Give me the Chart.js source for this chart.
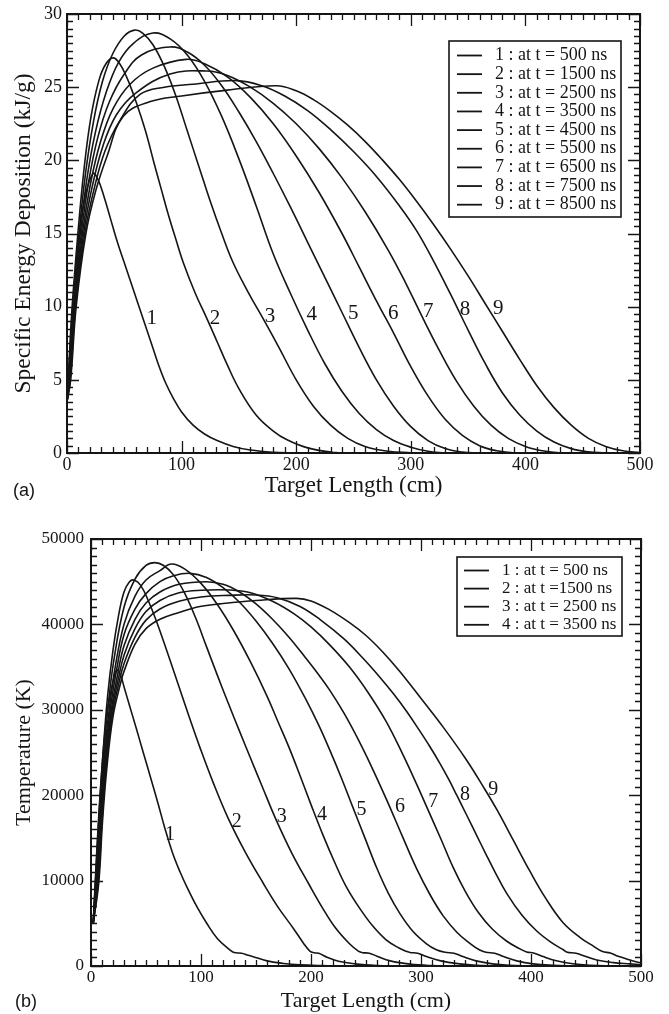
<!DOCTYPE html>
<html lang="en">
<head>
<meta charset="UTF-8">
<title>Specific energy deposition and temperature along the target</title>
<script src="https://cdn.jsdelivr.net/npm/chart.js"></script>
<style>
  body { margin: 0; background: #fff; }
  canvas { position: absolute; left: 0; }
</style>
</head>
<body>
<canvas id="chartA" width="669" height="500" style="top:0"></canvas>
<canvas id="chartB" width="669" height="514" style="top:500px"></canvas>

<script>
// ---- panel (a): specific energy deposition (kJ/g), [x cm, value] ----
const energy1 = [[0,3.5],[1.5,5],[5.5,10],[11,15],[16,17.6],[22.7,19.1],[27,18.7],[32,17.6],[38,16.0],[44,14.4],[50,13.0],[56,11.6],[62,10.2],[68,8.8],[74,7.4],[80,6.0],[86,4.8],[93,3.7],[100,2.8],[110,1.9],[120,1.3],[131,0.85],[145,0.45],[160,0.2],[180,0.05],[200,0]];
const energy2 = [[0,3.5],[1,5],[4.5,10],[9.5,15],[15,19.5],[21,23],[28,25.5],[34,26.6],[40.4,27.0],[46,26.6],[52,25.7],[58,24.5],[63.7,23.2],[70,21.6],[76,19.8],[82,18.1],[88,16.4],[95,14.6],[101.5,13.0],[112,10.9],[122,9.2],[131,7.6],[140,6.0],[150,4.4],[165,2.6],[180,1.5],[192,0.9],[210,0.35],[232,0.05],[250,0]];
const energy3 = [[0,3.5],[1.2,5],[5,10],[10.5,15],[16,19],[23,22.6],[31,25.4],[40,27.3],[50,28.5],[59,28.9],[66,28.7],[75,27.9],[85,26.4],[95,24.4],[105,22.0],[115,19.6],[125,17.2],[135,15.0],[145,13.0],[158,11.0],[171,9.2],[185,7.2],[200,5.0],[215,3.2],[230,1.9],[245,1.0],[260,0.45],[280,0.12],[300,0.02],[310,0]];
const energy4 = [[0,3.5],[1.4,5],[5.5,10],[11.5,15],[17.5,18.8],[25,22],[34,24.6],[45,26.7],[58,28],[75,28.7],[90,28.3],[105,27.2],[120,25.4],[135,23.0],[150,20.1],[165,16.9],[180,13.6],[195,10.9],[210,8.4],[225,6.1],[240,4.2],[255,2.7],[270,1.6],[285,0.85],[300,0.4],[315,0.12],[330,0]];
const energy5 = [[0,3.5],[1.7,5],[6,10],[12.5,15],[19,18.6],[27,21.6],[37,24],[50,25.9],[65,27.2],[90,27.75],[105,27.4],[120,26.5],[135,25.1],[150,23.3],[165,21.3],[180,19.1],[195,16.8],[210,14.4],[225,12.0],[240,9.6],[255,7.2],[270,5.0],[285,3.2],[300,1.8],[315,0.85],[330,0.3],[345,0.06],[360,0]];
const energy6 = [[0,3.5],[2,5],[6.5,10],[13.5,15],[20.5,18.4],[29,21.2],[40,23.5],[55,25.2],[75,26.3],[104,26.9],[120,26.6],[140,25.7],[160,24.3],[180,22.5],[200,20.3],[220,17.8],[240,15.0],[255,12.7],[270,10.4],[285,8.2],[300,5.9],[315,3.9],[330,2.3],[345,1.2],[360,0.5],[375,0.15],[390,0]];
const energy7 = [[0,3.5],[2.4,5],[7,10],[14.5,15],[22,18.2],[31,20.9],[43,23.1],[60,24.6],[90,25.9],[122,26.1],[140,25.8],[160,25.0],[180,23.9],[200,22.5],[220,20.8],[240,18.8],[260,16.5],[280,13.9],[295,11.7],[310,9.3],[325,7.0],[340,4.9],[355,3.2],[370,1.9],[385,1.0],[400,0.45],[415,0.15],[430,0]];
const energy8 = [[0,3.5],[2.8,5],[7.5,10],[15.5,15],[23.5,18],[33,20.6],[46,22.7],[63.7,24.5],[85,25.0],[110,25.2],[148,25.45],[170,25.1],[190,24.4],[210,23.4],[230,22.1],[250,20.6],[270,18.9],[290,16.9],[305,15.2],[320,13.1],[335,10.8],[350,8.4],[365,6.1],[380,4.1],[395,2.6],[410,1.5],[425,0.75],[440,0.3],[455,0.08],[470,0]];
const energy9 = [[0,3.5],[3.2,5],[8,10],[16.5,15],[25,17.9],[35,20.3],[49,23.0],[72,24],[100,24.4],[140,24.8],[183,25.1],[200,24.75],[215,24.15],[230,23.35],[245,22.4],[260,21.3],[275,20.05],[290,18.7],[305,17.2],[320,15.6],[335,13.9],[350,12.1],[365,10.2],[380,8.3],[395,6.4],[410,4.6],[425,3.1],[440,1.9],[455,1.0],[470,0.45],[485,0.15],[500,0.03]];

// ---- panel (b): temperature (K), [x cm, value] ----
const temp1 = [[2,5000],[3.8,9700],[7,17500],[11,25000],[15,30000],[17.3,31500],[20,33300],[23.4,34660],[27,34000],[30,32700],[35,30500],[41,27900],[47.5,25000],[55,21700],[61,19000],[67,16200],[74,13300],[81,11000],[87,9300],[96,7000],[105.2,5000],[115,3200],[126.4,1870],[130,1580],[137,1500],[142,1300],[147.5,1090],[160,600],[175,300],[190,130],[210,40],[230,0]];
const temp2 = [[2,5000],[4,9700],[7,17000],[11,25000],[15,31500],[20,37000],[25,41000],[30,43800],[35,45000],[39,45200],[45,44600],[52,42800],[60,40200],[70,36500],[80,32700],[90,28900],[99,25600],[111,21500],[124,17500],[140,13400],[156.6,9690],[170,6900],[184,4400],[193,2700],[199,1750],[203,1550],[207,1480],[215,1000],[225,550],[240,250],[260,60],[280,0]];
const temp3 = [[2,5000],[4.3,9700],[7.5,17000],[11.5,25000],[16,31000],[21,36000],[30,42000],[40,45300],[50,46900],[58,47230],[66,46900],[75,45800],[85,43700],[95,40800],[105,37400],[115,34000],[125,30700],[135,27500],[144.5,24500],[156,20900],[168,17200],[183,13100],[198,9600],[210,6900],[222,4500],[235,2600],[243,1750],[247,1560],[253,1500],[260,1150],[272,600],[290,220],[310,50],[330,0]];
const temp4 = [[2,5000],[4.6,9700],[8,17000],[12,24500],[17,30500],[22,35000],[30,40000],[40,43300],[50,45200],[62.7,46300],[73,47070],[85,46500],[100,44800],[115,42300],[130,39200],[145,35600],[160,31600],[170,28600],[180,25600],[190,22300],[200,18900],[211,15300],[222,12000],[232,9300],[244,6800],[256,4700],[268,3100],[280,2100],[287,1700],[290,1580],[297,1500],[305,1100],[318,600],[335,250],[350,80],[370,0]];
const temp5 = [[2,5000],[5,9700],[8.5,17000],[12.5,24300],[18,30500],[23,34500],[30,38800],[40,41800],[50,43600],[62.7,45000],[75,45700],[90,45980],[105,45500],[120,44300],[135,42600],[150,40400],[165,37800],[180,34800],[195,31300],[207,28200],[217,25300],[228,21900],[238,18600],[249,15000],[259.7,11500],[270,8600],[281,6100],[293,4000],[305,2600],[314,1900],[322,1600],[330,1500],[338,1100],[350,600],[365,250],[380,80],[400,0]];
const temp6 = [[2,5000],[5.5,9700],[9,17000],[13,24000],[18.5,30000],[24,34000],[30,37500],[40,40600],[50,42500],[62.7,43800],[80,44700],[105,45000],[120,44700],[135,43800],[150,42400],[165,40600],[180,38500],[195,36100],[207,34100],[217,32300],[230,29600],[243,26500],[257,22800],[270,19100],[283,15200],[296,11400],[308,8400],[320,5900],[333,3900],[345,2600],[353,1900],[359,1600],[367,1500],[375,1100],[387,600],[402,250],[420,80],[440,0]];
const temp7 = [[2,5000],[6,9700],[9.5,17000],[13.5,23800],[19,29800],[25,33700],[30,36400],[40,39500],[50,41500],[62.7,42800],[80,43700],[100,44000],[126.4,44030],[145,43700],[165,42700],[185,41200],[200,39700],[217,37600],[235,35000],[252,32000],[268,28700],[283,24900],[296,21300],[307,18100],[318,14900],[329,11600],[340,8800],[352,6300],[365,4300],[378,2900],[390,2000],[396,1650],[403,1500],[411,1100],[423,620],[438,260],[455,80],[475,0]];
const temp8 = [[2,5000],[6.5,9700],[10,17000],[14,23500],[19.5,29500],[26,33500],[30,35400],[40,38500],[50,40500],[62.7,41800],[80,42700],[100,43200],[125,43400],[150.6,43440],[170,43100],[190,42100],[208,40600],[230,38300],[247.5,36000],[262,33900],[274.8,31900],[287,29800],[299,27500],[308,25700],[317.3,23700],[325,21900],[332.5,20000],[341,17800],[350.6,15300],[359,13100],[367.3,11000],[377.9,8500],[392,5900],[405.2,4100],[418,2800],[429.4,1900],[433,1620],[441,1500],[450,1100],[459.7,700],[475,400],[490,250],[500,150]];
const temp9 = [[2,5000],[7,9700],[10.5,17000],[14.5,23300],[20,29200],[27,33200],[30,34500],[40,37700],[50,39500],[62.7,40600],[80,41400],[99,42100],[117,42400],[150,42800],[187,43050],[200,42750],[217,41700],[235,40200],[250,38700],[265,36800],[280,34600],[299,31500],[320,28000],[341.5,24100],[358,20700],[369,18300],[384,14700],[399,11100],[413,8000],[429,5100],[445,3300],[457,2300],[465,1700],[472,1520],[480,1100],[490,700],[500,350]];

// curve number tags, placed in data units
const tagText = ['1','2','3','4','5','6','7','8','9'];
const tagXA = [73.9,129.1,177.1,213.5,249.8,284.7,315.2,347.3,376.3];
const tagYA = [9.22,9.22,9.33,9.44,9.55,9.55,9.66,9.78,9.89];
const tagXB = [71.8,132.5,173.4,210,246,281,311.2,340,365.7];
const tagYB = [15340,16900,17480,17680,18270,18650,19240,20020,20600];

const legendA = ['1 : at t = 500 ns','2 : at t = 1500 ns','3 : at t = 2500 ns','4 : at t = 3500 ns','5 : at t = 4500 ns','6 : at t = 5500 ns','7 : at t = 6500 ns','8 : at t = 7500 ns','9 : at t = 8500 ns'];
const legendB = ['1 : at t = 500 ns','2 : at t =1500 ns','3 : at t = 2500 ns','4 : at t = 3500 ns'];

const xTicksStep = 100;
const INK = '#151515';
const SERIF = '"Liberation Serif", "Times New Roman", serif';

// inner ticks on all four sides + frame
const framePlugin = {
  id: 'frame',
  afterDatasetsDraw(chart, args, o) {
    const {ctx, chartArea: a} = chart;
    const xs = chart.scales.x, ys = chart.scales.y;
    ctx.save();
    ctx.strokeStyle = INK;
    ctx.lineWidth = 1.3;
    ctx.beginPath();
    const nx = Math.round((xs.max - xs.min) / o.xMinor);
    const kx = Math.round(o.xMajor / o.xMinor);
    for (let i = 0; i <= nx; i++) {
      const px = Math.round(xs.getPixelForValue(xs.min + i * o.xMinor)) + 0.5;
      const len = i % kx === 0 ? o.major : o.minor;
      ctx.moveTo(px, a.bottom); ctx.lineTo(px, a.bottom - len);
      ctx.moveTo(px, a.top); ctx.lineTo(px, a.top + len);
    }
    const ny = Math.round((ys.max - ys.min) / o.yMinor);
    const ky = Math.round(o.yMajor / o.yMinor);
    for (let i = 0; i <= ny; i++) {
      const py = Math.round(ys.getPixelForValue(ys.min + i * o.yMinor)) + 0.5;
      const len = i % ky === 0 ? o.major : o.minor;
      ctx.moveTo(a.left, py); ctx.lineTo(a.left + len, py);
      ctx.moveTo(a.right, py); ctx.lineTo(a.right - len, py);
    }
    ctx.stroke();
    ctx.lineWidth = 2;
    ctx.strokeRect(a.left, a.top, a.right - a.left, a.bottom - a.top);
    ctx.restore();
  }
};

// numbers written next to each curve
const tagPlugin = {
  id: 'curveTags',
  afterDatasetsDraw(chart, args, o) {
    const {ctx} = chart;
    const xs = chart.scales.x, ys = chart.scales.y;
    ctx.save();
    ctx.fillStyle = INK;
    ctx.font = o.size + 'px ' + SERIF;
    ctx.textAlign = 'center';
    ctx.textBaseline = 'middle';
    o.text.forEach((t, i) => {
      ctx.fillText(t, xs.getPixelForValue(o.xs[i]), ys.getPixelForValue(o.ys[i]));
    });
    ctx.restore();
  }
};

// boxed legend in the upper right corner, plus the panel letter
const boxLegendPlugin = {
  id: 'boxLegend',
  afterDraw(chart, args, o) {
    const {ctx} = chart;
    const [x0, y0, x1, y1] = o.box;
    ctx.save();
    ctx.fillStyle = '#fff';
    ctx.fillRect(x0, y0, x1 - x0, y1 - y0);
    ctx.strokeStyle = INK;
    ctx.lineWidth = 1.6;
    ctx.strokeRect(x0, y0, x1 - x0, y1 - y0);
    ctx.fillStyle = INK;
    ctx.font = o.size + 'px ' + SERIF;
    ctx.textAlign = 'left';
    ctx.textBaseline = 'middle';
    o.labels.forEach((t, i) => {
      const y = o.rowTop + i * o.rowStep;
      ctx.beginPath();
      ctx.lineWidth = 1.8;
      ctx.moveTo(o.lineX[0], y);
      ctx.lineTo(o.lineX[1], y);
      ctx.stroke();
      ctx.fillText(t, o.textX, y);
    });
    // (a) / (b)
    ctx.font = '18px "Liberation Sans", Arial, sans-serif';
    ctx.fillText(o.panel[0], o.panel[1], o.panel[2]);
    ctx.restore();
  }
};

function makeChart(id, curves, cfg) {
  const datasets = curves.map((c, i) => ({
    label: cfg.legend[i] || tagText[i],
    data: c.map(([x, y]) => ({x, y})),
    borderColor: INK,
    borderWidth: 1.6,
    pointRadius: 0,
    fill: false,
    tension: 0.4
  }));
  return new Chart(document.getElementById(id), {
    type: 'line',
    data: { datasets },
    plugins: [framePlugin, tagPlugin, boxLegendPlugin],
    options: {
      responsive: false,
      animation: false,
      events: [],
      layout: { padding: cfg.padding },
      plugins: {
        legend: { display: false },
        tooltip: { enabled: false },
        frame: cfg.frame,
        curveTags: { text: tagText, xs: cfg.tagX, ys: cfg.tagY, size: cfg.tagSize },
        boxLegend: cfg.box
      },
      scales: {
        x: {
          type: 'linear',
          min: 0, max: 500,
          grid: { display: false, drawTicks: false },
          border: { display: false },
          ticks: {
            stepSize: xTicksStep, padding: 3, autoSkip: false, maxRotation: 0,
            color: INK, font: { family: SERIF, size: cfg.tickSize, lineHeight: 1 },
            callback: v => String(v)
          },
          title: {
            display: true, text: 'Target Length (cm)', color: INK,
            font: { family: SERIF, size: cfg.xTitleSize }, padding: 0
          },
          afterFit: s => { s.height = cfg.xHeight; }
        },
        y: {
          type: 'linear',
          min: 0, max: cfg.yMax,
          grid: { display: false, drawTicks: false },
          border: { display: false },
          ticks: {
            stepSize: cfg.yStep, padding: cfg.yPad, autoSkip: false,
            color: INK, font: { family: SERIF, size: cfg.tickSize, lineHeight: 1 },
            callback: v => String(v)
          },
          title: {
            display: true, text: cfg.yTitle, color: INK,
            font: { family: SERIF, size: cfg.yTitleSize }, padding: { top: cfg.yTitlePad, bottom: 0 }
          },
          afterFit: s => { s.width = cfg.yWidth; }
        }
      }
    }
  });
}

makeChart('chartA', [energy1, energy2, energy3, energy4, energy5, energy6, energy7, energy8, energy9], {
  legend: legendA,
  padding: { left: 0, top: 9, right: 29, bottom: 0 },
  xHeight: 47, yWidth: 67, yPad: 5,
  tickSize: 18, xTitleSize: 23, yTitleSize: 23.5, yTitlePad: 10,
  yMax: 30, yStep: 5,
  yTitle: 'Specific Energy Deposition (kJ/g)',
  tagX: tagXA, tagY: tagYA, tagSize: 21,
  frame: { xMinor: 10, xMajor: 100, yMinor: 0.5, yMajor: 5, major: 12, minor: 6 },
  box: {
    box: [449, 41, 621, 217], labels: legendA, size: 18,
    rowTop: 55.5, rowStep: 18.65, lineX: [457, 482], textX: 495,
    panel: ['(a)', 13, 491]
  }
});

makeChart('chartB', [temp1, temp2, temp3, temp4, temp5, temp6, temp7, temp8, temp9], {
  legend: legendB,
  padding: { left: 0, top: 39, right: 28, bottom: 0 },
  xHeight: 48, yWidth: 91, yPad: 7,
  tickSize: 17, xTitleSize: 22, yTitleSize: 22, yTitlePad: 11,
  yMax: 50000, yStep: 10000,
  yTitle: 'Temperature (K)',
  tagX: tagXB, tagY: tagYB, tagSize: 20,
  frame: { xMinor: 10, xMajor: 100, yMinor: 1000, yMajor: 10000, major: 12, minor: 6 },
  box: {
    box: [457, 57, 622, 136], labels: legendB, size: 17,
    rowTop: 70.5, rowStep: 18.1, lineX: [464, 489], textX: 502,
    panel: ['(b)', 15, 502]
  }
});
</script>
</body>
</html>
